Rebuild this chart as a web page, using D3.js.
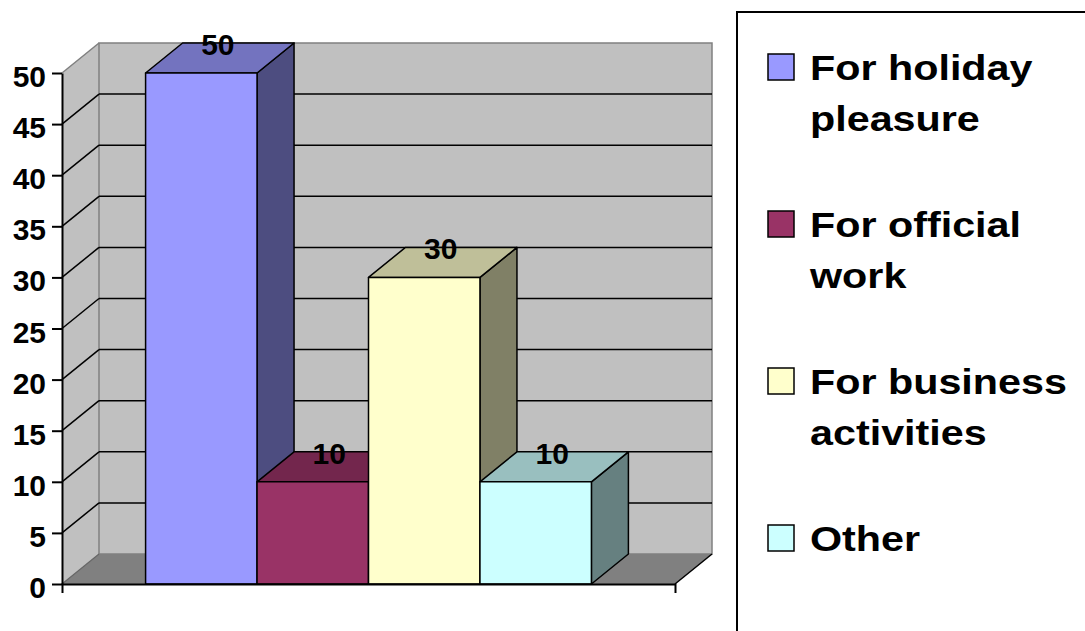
<!DOCTYPE html>
<html>
<head>
<meta charset="utf-8">
<script src="https://cdn.jsdelivr.net/npm/d3@7"></script>
<style>
  body { margin: 0; background: #fff; }
  text { font-family: "Liberation Sans", Arial, sans-serif; font-weight: bold; }
</style>
</head>
<body>
<script>
// chart data
var series = ["For holiday pleasure", "For official work", "For business activities", "Other"];
var legendLines = [["For holiday", "pleasure"], ["For official", "work"], ["For business", "activities"], ["Other"]];
var values = [50, 10, 30, 10];
var yTicks = [0, 5, 10, 15, 20, 25, 30, 35, 40, 45, 50];
var colors = ["#9999ff", "#993366", "#ffffcc", "#ccffff"];

var width = 1085, height = 631;
var plot = { left: 62, right: 675, top: 73, bottom: 584 };
var depth = { dx: 37, dy: -30 };

var svg = d3.select("body").append("svg")
  .attr("width", width)
  .attr("height", height);

svg.append("rect").attr("width", width).attr("height", height).attr("fill", "#fff");

var x = d3.scaleBand().domain(series).range([plot.left, plot.right]).paddingOuter(0.75);
var y = d3.scaleLinear().domain([0, d3.max(yTicks)]).range([plot.bottom, plot.top]);
var color = d3.scaleOrdinal().domain(series).range(colors);

function shade(c, k) {
  var r = d3.rgb(c);
  return d3.rgb(r.r * k, r.g * k, r.b * k).formatHex();
}
function pts(a) {
  return a.map(function (p) { return p.join(","); }).join(" ");
}

var yMax = d3.max(yTicks);
var L = plot.left, R = plot.right, dx = depth.dx, dy = depth.dy;

// side wall
svg.append("polygon")
  .attr("points", pts([[L, y(0)], [L, y(yMax)], [L + dx, y(yMax) + dy], [L + dx, y(0) + dy]]))
  .attr("fill", "#c0c0c0");
// back wall
svg.append("polygon")
  .attr("points", pts([[L + dx, y(0) + dy], [L + dx, y(yMax) + dy], [R + dx, y(yMax) + dy], [R + dx, y(0) + dy]]))
  .attr("fill", "#c0c0c0")
  .attr("stroke", "#808080")
  .attr("stroke-width", 1.5);
// floor
svg.append("polygon")
  .attr("points", pts([[L, y(0)], [R, y(0)], [R + dx, y(0) + dy], [L + dx, y(0) + dy]]))
  .attr("fill", "#808080");
svg.append("line")
  .attr("x1", R).attr("y1", y(0)).attr("x2", R + dx).attr("y2", y(0) + dy)
  .attr("stroke", "#000").attr("stroke-width", 1.5);
svg.append("line")
  .attr("x1", L).attr("y1", y(0)).attr("x2", L + dx).attr("y2", y(0) + dy)
  .attr("stroke", "#666").attr("stroke-width", 1.2);
svg.append("line")
  .attr("x1", L).attr("y1", y(yMax)).attr("x2", L + dx).attr("y2", y(yMax) + dy)
  .attr("stroke", "#808080").attr("stroke-width", 1.5);

// gridlines
var grid = yTicks.filter(function (t) { return t > 0 && t < yMax; });
svg.selectAll(".gridBack").data(grid).enter().append("line")
  .attr("x1", L + dx).attr("x2", R + dx)
  .attr("y1", function (d) { return y(d) + dy; })
  .attr("y2", function (d) { return y(d) + dy; })
  .attr("stroke", "#000").attr("stroke-width", 1.5);
svg.selectAll(".gridSide").data(grid).enter().append("line")
  .attr("x1", L).attr("x2", L + dx)
  .attr("y1", function (d) { return y(d); })
  .attr("y2", function (d) { return y(d) + dy; })
  .attr("stroke", "#000").attr("stroke-width", 1.5);

// bars
series.forEach(function (s, i) {
  var x0 = x(s), w = x.bandwidth(), yt = y(values[i]), yb = y(0);
  var g = svg.append("g").attr("stroke", "#000").attr("stroke-width", 1.5).attr("stroke-linejoin", "round");
  g.append("polygon")
    .attr("points", pts([[x0 + w, yt], [x0 + w + dx, yt + dy], [x0 + w + dx, yb + dy], [x0 + w, yb]]))
    .attr("fill", shade(color(s), 0.5));
  g.append("polygon")
    .attr("points", pts([[x0, yt], [x0 + w, yt], [x0 + w + dx, yt + dy], [x0 + dx, yt + dy]]))
    .attr("fill", shade(color(s), 0.75));
  g.append("rect")
    .attr("x", x0).attr("y", yt).attr("width", w).attr("height", yb - yt)
    .attr("fill", color(s));
});

// value labels
svg.selectAll(".val").data(series).enter().append("text")
  .attr("x", function (d) { return x(d) + x.bandwidth() / 2 + dx / 2 - 2; })
  .attr("y", function (d, i) { return y(values[i]) + dy / 2 - 3; })
  .attr("text-anchor", "middle")
  .style("font-size", "30px")
  .text(function (d, i) { return values[i]; });

// y axis
var yAxis = svg.append("g")
  .attr("transform", "translate(" + L + ",0)")
  .call(d3.axisLeft(y).tickValues(yTicks).tickSize(10).tickSizeOuter(0).tickPadding(6));
yAxis.selectAll("path, line").attr("stroke", "#000").attr("stroke-width", 2);
yAxis.selectAll("text")
  .attr("dy", "0.45em")
  .style("font-size", "30px")
  .style("font-family", "'Liberation Sans', Arial, sans-serif")
  .attr("fill", "#000");

// x axis
var xLine = d3.scaleLinear().range([L, R]);
var xAxis = svg.append("g")
  .attr("transform", "translate(0," + y(0) + ")")
  .call(d3.axisBottom(xLine).tickValues([]).tickSizeOuter(9));
xAxis.selectAll("path").attr("stroke", "#000").attr("stroke-width", 2);

// legend
svg.append("rect")
  .attr("x", 737).attr("y", 12).attr("width", 400).attr("height", 700)
  .attr("fill", "none").attr("stroke", "#000").attr("stroke-width", 2);

var legend = svg.selectAll(".legend").data(series).enter().append("g")
  .attr("transform", function (d, i) { return "translate(768," + (80 + i * 157) + ")"; });
legend.append("rect")
  .attr("x", 0).attr("y", -26).attr("width", 26).attr("height", 26)
  .attr("fill", function (d) { return color(d); })
  .attr("stroke", "#000").attr("stroke-width", 1.5);
legend.each(function (d, i) {
  var t = d3.select(this).append("text")
    .attr("transform", "translate(42,0) scale(1.18,1)")
    .style("font-size", "35px");
  legendLines[i].forEach(function (line, j) {
    t.append("tspan").attr("x", 0).attr("y", j * 51).text(line);
  });
});
</script>
</body>
</html>
